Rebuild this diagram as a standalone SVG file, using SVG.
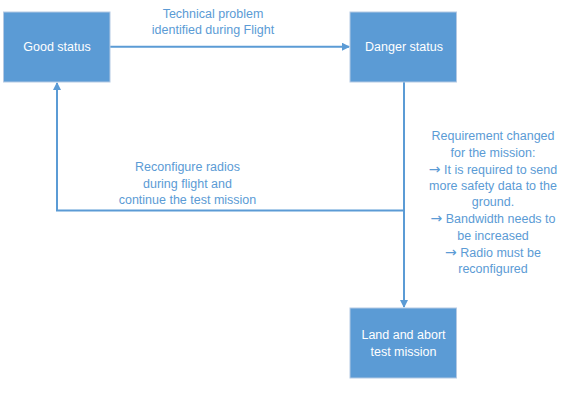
<svg xmlns="http://www.w3.org/2000/svg" width="571" height="405" viewBox="0 0 571 405">
<style>
.box{fill:#5B9BD5;stroke:#B4C9E3;stroke-width:1}
.nt{font-family:"Liberation Sans",Arial,sans-serif;font-size:12.5px;fill:#FFFFFF;text-anchor:middle}
.lt{font-family:"Liberation Sans",Arial,sans-serif;font-size:12.5px;fill:#5B9BD5;text-anchor:middle}
.ar{font-family:"DejaVu Sans",sans-serif;font-size:14px}
.conn{fill:none;stroke:#5B9BD5;stroke-width:2}
</style>
<defs>
<marker id="ah" markerWidth="8" markerHeight="8" refX="7" refY="4" orient="auto" markerUnits="userSpaceOnUse">
<path d="M0,0 L8,4 L0,8 Z" fill="#5B9BD5"/>
</marker>
</defs>
<rect width="571" height="405" fill="#FFFFFF"/>
<g id="connectors">
<path class="conn" d="M110,46.7 H349" marker-end="url(#ah)"/>
<path class="conn" d="M404,82 V307" marker-end="url(#ah)"/>
<path class="conn" d="M404,210.5 H57 V83" marker-end="url(#ah)"/>
</g>
<g id="good">
<rect class="box" x="3.5" y="12" width="106.5" height="70"/>
<text class="nt" x="57" y="51">Good status</text>
</g>
<g id="danger">
<rect class="box" x="350" y="12" width="106.5" height="70"/>
<text class="nt" x="404" y="51">Danger status</text>
</g>
<g id="land">
<rect class="box" x="350" y="308" width="106.5" height="70"/>
<text class="nt" x="403.5" y="339">Land and abort</text>
<text class="nt" x="403.5" y="355.5">test mission</text>
</g>
<g id="labels">
<text class="lt" x="213" y="17.5">Technical problem</text>
<text class="lt" x="213" y="33.5">identified during Flight</text>
<text class="lt" x="187.5" y="171">Reconfigure radios</text>
<text class="lt" x="187.5" y="187.5">during flight and</text>
<text class="lt" x="187.5" y="204">continue the test mission</text>
<text class="lt" x="493" y="140">Requirement changed</text>
<text class="lt" x="493" y="157">for the mission:</text>
<text class="lt" x="493" y="174"><tspan class="ar">→</tspan> It is required to send</text>
<text class="lt" x="493" y="190">more safety data to the</text>
<text class="lt" x="493" y="206">ground.</text>
<text class="lt" x="493" y="223"><tspan class="ar">→</tspan> Bandwidth needs to</text>
<text class="lt" x="493" y="240">be increased</text>
<text class="lt" x="493" y="257"><tspan class="ar">→</tspan> Radio must be</text>
<text class="lt" x="493" y="273">reconfigured</text>
</g>
</svg>
